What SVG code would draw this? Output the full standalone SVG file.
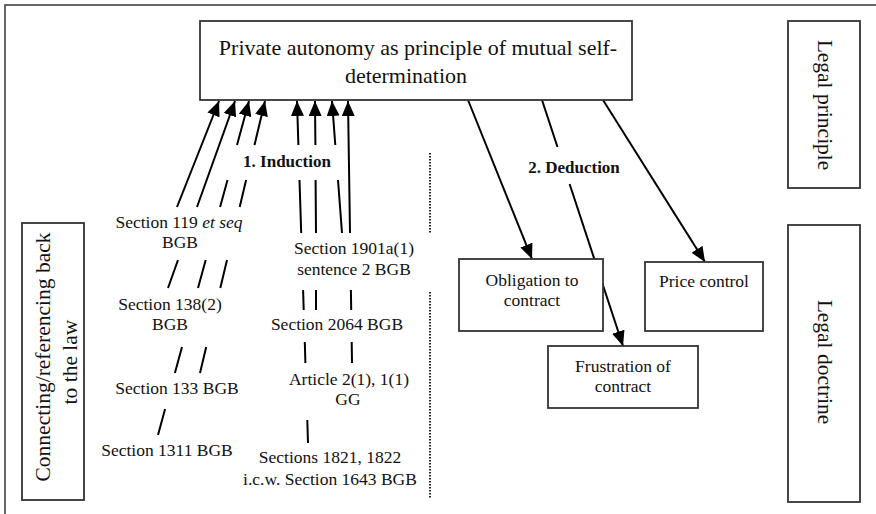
<svg xmlns="http://www.w3.org/2000/svg" width="876" height="514" viewBox="0 0 876 514">
<style>
.box{fill:#fff;stroke:#333;stroke-width:1.8}
.t{font-family:"Liberation Serif","Times New Roman",serif;fill:#111;text-anchor:middle}
.s{font-size:17.5px}
.l{font-size:21.5px}
.m{font-size:22px}
.b{font-size:17px;font-weight:bold}
.c{fill:none;stroke:#000;stroke-width:2}
.dot{fill:none;stroke:#222;stroke-width:2;stroke-dasharray:1.5 1.5}
</style>
<defs>
<marker id="ah" markerUnits="userSpaceOnUse" markerWidth="15" markerHeight="13" refX="15" refY="6.5" orient="auto">
<path d="M0,0 L15,6.5 L0,13 z" fill="#000"/>
</marker>
</defs>
<rect x="5" y="5" width="900" height="600" fill="#fff" stroke="#444" stroke-width="1.6"/>
<g id="connectors">
<path class="c" marker-end="url(#ah)" d="M177,207 L219,101"/>
<path class="c" marker-end="url(#ah)" d="M168,288 L178,260 M197,207 L235,101"/>
<path class="c" marker-end="url(#ah)" d="M158,435 L165.1,409 M174.9,373 L182,347 M198,288 L205.7,260 M220.1,207 L227.5,180 M237,145 L249,101"/>
<path class="c" marker-end="url(#ah)" d="M200,373 L206.2,347 M220.3,288 L227,260 M239.7,207 L246.1,180 M254.5,145 L265,101"/>
<path class="c" marker-end="url(#ah)" d="M308,443 L307.3,420 M305.4,363 L304.8,342 M303.7,310 L303.1,290 M301.2,233 L299.5,180 M298.4,145 L297,101"/>
<path class="c" marker-end="url(#ah)" d="M316,310 L316,290 M316,233 L315.6,180 M315.4,145 L315,101"/>
<path class="c" marker-end="url(#ah)" d="M342,233 L338,180 M335.3,145 L332,101"/>
<path class="c" marker-end="url(#ah)" d="M352,363 L351.7,342 M351.2,310 L350.9,290 M350,233 L348,101"/>
<path class="c" marker-end="url(#ah)" d="M468,100 L532,259"/>
<path class="c" marker-end="url(#ah)" d="M542,100 L557.5,147 M569.6,184 L623,346"/>
<path class="c" marker-end="url(#ah)" d="M603,100 L705,262"/>
<path class="dot" d="M430,153 L430,233 M430,292 L430,498"/>
</g>
<g id="principle">
<rect class="box" x="200" y="21" width="432" height="79"/>
<text class="t m" x="418" y="55">Private autonomy as principle of mutual self-</text>
<text class="t m" x="406" y="83">determination</text>
</g>
<g id="legal-principle">
<rect class="box" x="788" y="21" width="72" height="167"/>
<text class="t l" transform="translate(818,105) rotate(90)">Legal principle</text>
</g>
<g id="legal-doctrine">
<rect class="box" x="788" y="225" width="72" height="277"/>
<text class="t l" transform="translate(818,362) rotate(90)">Legal doctrine</text>
</g>
<g id="connecting">
<rect class="box" x="22" y="223" width="62" height="277"/>
<text class="t l" transform="translate(50,357) rotate(-90)">Connecting/referencing back</text>
<text class="t l" transform="translate(77,362) rotate(-90)">to the law</text>
</g>
<g id="obligation">
<rect class="box" x="459" y="259" width="144" height="72"/>
<text class="t s" x="532" y="286">Obligation to</text>
<text class="t s" x="532" y="306">contract</text>
</g>
<g id="price">
<rect class="box" x="645" y="262" width="118" height="69"/>
<text class="t s" x="704" y="287">Price control</text>
</g>
<g id="frustration">
<rect class="box" x="548" y="346" width="150" height="62"/>
<text class="t s" x="623" y="372">Frustration of</text>
<text class="t s" x="623" y="392">contract</text>
</g>
<g id="induction-label"><text class="t b" x="287" y="167">1. Induction</text></g>
<g id="deduction-label"><text class="t b" x="574" y="173">2. Deduction</text></g>
<g id="s119"><text class="t s" x="179" y="228">Section 119 <tspan font-style="italic">et seq</tspan></text><text class="t s" x="180" y="248">BGB</text></g>
<g id="s138"><text class="t s" x="170" y="310">Section 138(2)</text><text class="t s" x="170" y="330">BGB</text></g>
<g id="s133"><text class="t s" x="177" y="394">Section 133 BGB</text></g>
<g id="s1311"><text class="t s" x="167" y="456">Section 1311 BGB</text></g>
<g id="s1901a"><text class="t s" x="354" y="254">Section 1901a(1)</text><text class="t s" x="354" y="275">sentence 2 BGB</text></g>
<g id="s2064"><text class="t s" x="337" y="330">Section 2064 BGB</text></g>
<g id="gg"><text class="t s" x="349" y="385">Article 2(1), 1(1)</text><text class="t s" x="348" y="405">GG</text></g>
<g id="s1821"><text class="t s" x="330" y="463">Sections 1821, 1822</text><text class="t s" x="330" y="485">i.c.w. Section 1643 BGB</text></g>
</svg>
